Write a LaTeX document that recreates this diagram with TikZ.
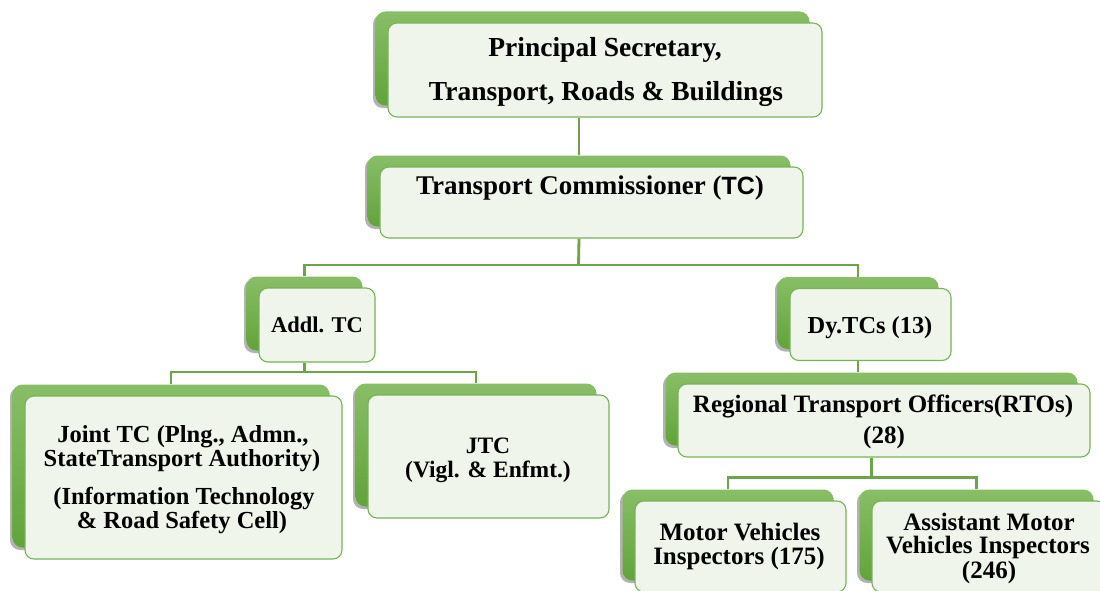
\documentclass[tikz,border=0pt]{standalone}
\usepackage{fontspec}
\setmainfont{Liberation Serif}
\newfontfamily\sansbf{Liberation Sans}
\usetikzlibrary{shadows,calc}
\pgfdeclarelayer{bg}
\pgfdeclarelayer{paper}
\pgfsetlayers{paper,bg,main}
\definecolor{tabtop}{HTML}{88BE67}
\definecolor{tabbot}{HTML}{62A33A}
\definecolor{boxfill}{HTML}{EFF5EB}
\definecolor{boxline}{HTML}{78B356}
\definecolor{connc}{HTML}{6BA646}
\tikzset{
  tab/.style={rectangle, rounded corners=10pt, draw=none, top color=tabtop, bottom color=tabbot, inner sep=0pt,
    drop shadow={shadow xshift=-2.5pt, shadow yshift=-2.5pt, opacity=0.3, fill=black}},
  wbox/.style={rectangle, rounded corners=9pt, draw=boxline, line width=1.1pt, fill=boxfill, inner sep=0pt},
  conn/.style={draw=connc, line width=2.8pt},
  txt/.style={anchor=base, inner sep=0pt, font=\bfseries\fontsize{25}{25}\selectfont},
}
\newcommand\orgbox[5]{%
  \node[tab, minimum width=#4pt, minimum height=#5pt] (#1-tab) at (#2-12.5,#3-11.5) {};
  \node[wbox, minimum width=#4pt, minimum height=#5pt] (#1) at (#2,#3) {};}
\begin{document}
\begin{tikzpicture}[x=1pt,y=-1pt]
\clip (0,0) rectangle (1100,591);
\useasboundingbox (0,0) rectangle (1100,591);
\begin{pgfonlayer}{paper}
\fill[white] (0,0) rectangle (1100,591);
\end{pgfonlayer}
% boxes
\orgbox{ps}{605}{70}{434}{94}
\orgbox{tc}{591.5}{202.5}{423}{71}
\orgbox{addl}{317}{325}{116}{74}
\orgbox{dy}{870.5}{324.5}{161}{72}
\orgbox{joint}{183.5}{477.5}{317}{163}
\orgbox{jtc}{488.5}{456.5}{241}{123}
\orgbox{rto}{884}{420.5}{412}{73}
\orgbox{mvi}{740.5}{546.5}{211}{91}
\orgbox{amvi}{989}{546.5}{234}{91}
% junctions
\coordinate (j1) at (578.5,265);
\coordinate (j2) at (304.5,372);
\coordinate (j3) at (871.5,477.5);
\begin{pgfonlayer}{bg}
\draw[conn] (tc-tab.north |- ps.south) -- (tc-tab.north);
\draw[conn] (tc-tab.north |- tc.south) -- (j1);
\draw[conn] (addl-tab.north) |- (j1) -| (dy-tab.north);
\draw[conn] (addl-tab.north |- addl.south) -- (j2);
\draw[conn] (joint-tab.north) |- (j2) -| (jtc-tab.north);
\draw[conn] (dy-tab.north |- dy.south) -- (dy-tab.north |- rto-tab.north);
\draw[conn] (rto-tab.north |- rto.south) -- (j3);
\draw[conn] (mvi-tab.north) |- (j3) -| (amvi-tab.north);
\end{pgfonlayer}
% texts
\node[txt, font=\bfseries\fontsize{27.5}{27.5}\selectfont] (ps-t1) at (605,57) {Principal Secretary,};
\node[txt, font=\bfseries\fontsize{27.5}{27.5}\selectfont] (ps-t2) at (606,101) {Transport, Roads \& Buildings};
\node[txt, font=\bfseries\fontsize{27}{27}\selectfont] (tc-t1) at (590,194) {Transport Commissioner ({\sansbf\bfseries\fontsize{25}{25}\selectfont TC})};
\node[txt, font=\bfseries\fontsize{22.5}{22.5}\selectfont] (addl-t1) at (317,332) {Addl. TC};
\node[txt, font=\bfseries\fontsize{24.4}{24.4}\selectfont] (dy-t1) at (870,333) {Dy.TCs (13)};
\node[txt, font=\bfseries\fontsize{24.5}{24.5}\selectfont] (joint-t1) at (183,442) {Joint TC (Plng., Admn.,};
\node[txt, font=\bfseries\fontsize{24.5}{24.5}\selectfont] (joint-t2) at (182,466) {StateTransport Authority)};
\node[txt, font=\bfseries\fontsize{24.5}{24.5}\selectfont] (joint-t3) at (184,504) {(Information Technology};
\node[txt, font=\bfseries\fontsize{24.5}{24.5}\selectfont] (joint-t4) at (182,528) {\& Road Safety Cell)};
\node[txt, font=\bfseries\fontsize{23.5}{23.5}\selectfont] (jtc-t1) at (488,453) {JTC};
\node[txt, font=\bfseries\fontsize{23.5}{23.5}\selectfont] (jtc-t2) at (488,477) {(Vigl. \& Enfmt.)};
\node[txt] (rto-t1) at (883,412) {Regional Transport Officers(RTOs)};
\node[txt] (rto-t2) at (884,443) {(28)};
\node[txt] (mvi-t1) at (740,540) {Motor Vehicles};
\node[txt] (mvi-t2) at (739,564) {Inspectors (175)};
\node[txt] (amvi-t1) at (989,530) {Assistant Motor};
\node[txt] (amvi-t2) at (988,553) {Vehicles Inspectors};
\node[txt] (amvi-t3) at (989,578) {(246)};
\end{tikzpicture}
\end{document}
